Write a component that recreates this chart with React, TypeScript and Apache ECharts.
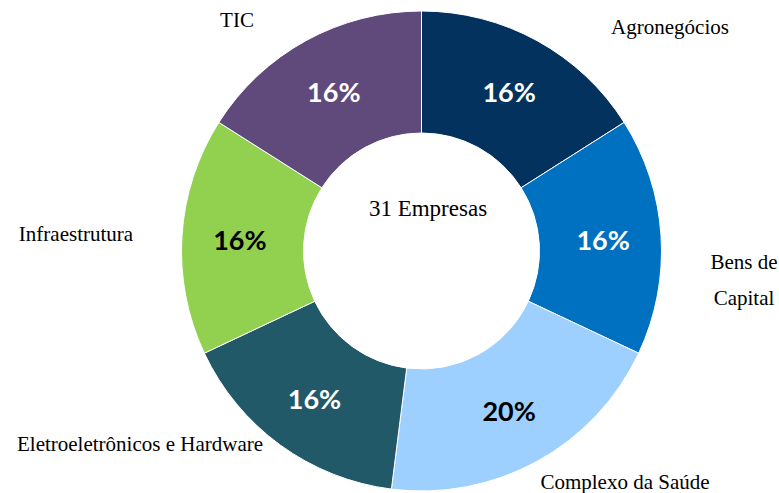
import React, { useEffect, useRef } from "react";
import * as echarts from "echarts";

const categories = [
  "Agronegócios",
  "Bens de\nCapital",
  "Complexo da Saúde",
  "Eletroeletrônicos e Hardware",
  "Infraestrutura",
  "TIC",
];
const shares = [16, 16, 20, 16, 16, 16];
const centerText = "31 Empresas";

const COLORS = ["#03325E", "#0070C0", "#9DCFFF", "#215968", "#92D050", "#604A7B"];
const PCT_COLORS = ["#fff", "#fff", "#000", "#fff", "#000", "#fff"];
const LABEL_POS: [number, number][] = [
  [670, 27],
  [744, 280],
  [625, 482],
  [140, 444],
  [76, 234],
  [237, 20],
];
const CENTER: [number, number] = [421.5, 251];
const RADIUS: [number, number] = [118, 240];

export default function App() {
  const ref = useRef<HTMLDivElement>(null);
  useEffect(() => {
    if (!ref.current) return;
    const chart = echarts.init(ref.current, undefined, { renderer: "svg" });
    const data = categories.map((name, i) => ({
      name,
      value: shares[i],
      itemStyle: { color: COLORS[i] },
      label: { color: PCT_COLORS[i] },
    }));
    chart.setOption({
      animation: false,
      backgroundColor: "#fff",
      series: [
        {
          type: "pie",
          center: CENTER,
          radius: RADIUS,
          startAngle: 90,
          clockwise: true,
          silent: true,
          itemStyle: { borderColor: "#fff", borderWidth: 1 },
          label: {
            show: true,
            position: "inside",
            formatter: "{c}%",
            fontFamily: "Lato",
            fontWeight: "bold",
            fontSize: 27,
          },
          labelLine: { show: false },
          data,
        },
        {
          type: "pie",
          center: CENTER,
          radius: RADIUS,
          startAngle: 90,
          clockwise: true,
          silent: true,
          avoidLabelOverlap: false,
          itemStyle: { color: "transparent" },
          label: {
            show: true,
            position: "outside",
            formatter: "{b}",
            fontFamily: "Liberation Serif",
            fontSize: 21,
            color: "#000",
            lineHeight: 36,
            align: "center",
            overflow: "none",
            width: 400,
          },
          labelLine: { show: false },
          labelLayout: (p: any) => ({
            x: LABEL_POS[p.dataIndex][0],
            y: LABEL_POS[p.dataIndex][1],
            align: "center",
            verticalAlign: "middle",
          }),
          data: categories.map((name, i) => ({ name, value: shares[i] })),
        },
      ],
      graphic: [
        {
          type: "text",
          x: 428,
          y: 208,
          style: {
            text: centerText,
            fontFamily: "Liberation Serif",
            fontSize: 23,
            fill: "#000",
            align: "center",
            verticalAlign: "middle",
          },
        },
      ],
    });
    return () => chart.dispose();
  }, []);
  return (
    <div
      ref={ref}
      style={{ position: "fixed", left: 0, top: 0, width: 779, height: 493 }}
    />
  );
}
